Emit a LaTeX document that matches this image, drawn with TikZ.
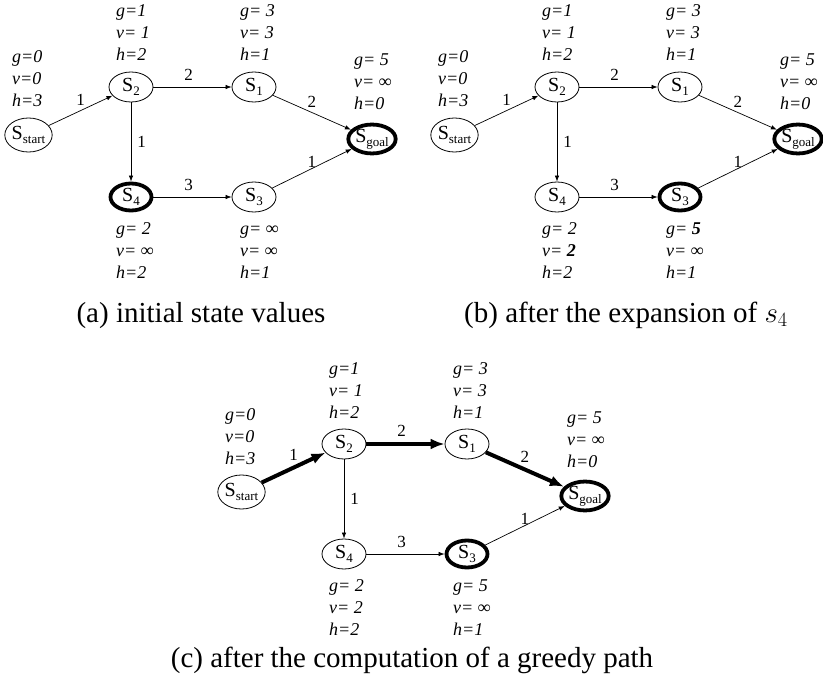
\documentclass[tikz,border=0pt]{standalone}
\usepackage{fix-cm}
\usepackage{fontspec}
\setmainfont{Liberation Serif}[
  BoldFont={Liberation Serif Bold},
  ItalicFont={Liberation Serif Italic},
  BoldItalicFont={Liberation Serif Bold Italic}]
\usetikzlibrary{arrows.meta,shapes.geometric}

% subscript of a state name
\newcommand\stsub[1]{\raisebox{-0.22em}{\fontsize{13}{13}\selectfont #1}}
% three stacked values g, v, h of a state
\newcommand\vals[3]{\begin{tabular}[t]{@{}l@{}}#1\\#2\\#3\end{tabular}}

\tikzset{
  state/.style={ellipse, draw, line width=0.8pt, minimum width=44pt,
    minimum height=30pt, inner sep=0pt, font=\fontsize{20}{20}\selectfont},
  startstate/.style={state, minimum width=43pt, minimum height=34pt},
  marked/.style={line width=3.8pt, minimum width=41pt, minimum height=27pt},
  conn/.style={-{Latex[length=6pt,width=4.5pt]}, line width=0.7pt},
  greedy/.style={-{Latex[length=14pt,width=11pt]}, line width=4pt},
  cost/.style={font=\fontsize{17}{17}\selectfont, inner sep=0pt},
  vlabel/.style={anchor=base west, inner sep=0pt,
    font=\fontsize{18}{22}\selectfont\itshape},
  caption/.style={anchor=base, inner sep=0pt, font=\fontsize{29}{29}\selectfont},
}

\begin{document}
\begin{tikzpicture}[x=1pt, y=-1pt]
\useasboundingbox (0,0) rectangle (823,693);

% ---------------- (a) initial state values ----------------
\begin{scope}
\node[startstate] (a-start) at (28.5,135) {S\stsub{start}};
\node[state] (a-s2) at (131,87) {S\stsub{2}};
\node[state] (a-s1) at (254,87) {S\stsub{1}};
\node[state, marked] (a-goal) at (372,139) {S\stsub{goal}};
\node[state, marked] (a-s4) at (131,197) {S\stsub{4}};
\node[state] (a-s3) at (254,197) {S\stsub{3}};

\node[vlabel] (a-vstart) at (12,63) {\vals{g=0}{v=0}{h=3}};
\node[vlabel] (a-v2) at (116,17) {\vals{g=1}{v= 1}{h=2}};
\node[vlabel] (a-v1) at (240,17) {\vals{g= 3}{v= 3}{h=1}};
\node[vlabel] (a-vgoal) at (354,66) {\vals{g= 5}{v= ∞}{h=0}};
\node[vlabel] (a-v4) at (116,234) {\vals{g= 2}{v= ∞}{h=2}};
\node[vlabel] (a-v3) at (240,234) {\vals{g= ∞}{v= ∞}{h=1}};

\draw[conn] (a-start) -- node[cost, above=5pt] {1} (a-s2);
\draw[conn] (a-s2) -- node[cost, pos=0.45, above=6pt] {2} (a-s1);
\draw[conn] (a-s2) -- node[cost, right=6pt] {1} (a-s4);
\draw[conn] (a-s1) -- node[cost, above=5pt] {2} (a-goal);
\draw[conn] (a-s4) -- node[cost, pos=0.45, above=6pt] {3} (a-s3);
\draw[conn] (a-s3) -- node[cost, above=1pt] {1} (a-goal);

\node[caption] (a-cap) at (201,322) {(a) initial state values};
\end{scope}

% ---------------- (b) after the expansion of s4 ----------------
\begin{scope}[shift={(426,0)}]
\node[startstate] (b-start) at (28.5,135) {S\stsub{start}};
\node[state] (b-s2) at (131,87) {S\stsub{2}};
\node[state] (b-s1) at (254,87) {S\stsub{1}};
\node[state, marked] (b-goal) at (372,139) {S\stsub{goal}};
\node[state] (b-s4) at (131,197) {S\stsub{4}};
\node[state, marked] (b-s3) at (254,197) {S\stsub{3}};

\node[vlabel] (b-vstart) at (12,63) {\vals{g=0}{v=0}{h=3}};
\node[vlabel] (b-v2) at (116,17) {\vals{g=1}{v= 1}{h=2}};
\node[vlabel] (b-v1) at (240,17) {\vals{g= 3}{v= 3}{h=1}};
\node[vlabel] (b-vgoal) at (354,66) {\vals{g= 5}{v= ∞}{h=0}};
\node[vlabel] (b-v4) at (116,234) {\vals{g= 2}{v= \textbf{2}}{h=2}};
\node[vlabel] (b-v3) at (240,234) {\vals{g= \textbf{5}}{v= ∞}{h=1}};

\draw[conn] (b-start) -- node[cost, above=5pt] {1} (b-s2);
\draw[conn] (b-s2) -- node[cost, pos=0.45, above=6pt] {2} (b-s1);
\draw[conn] (b-s2) -- node[cost, right=6pt] {1} (b-s4);
\draw[conn] (b-s1) -- node[cost, above=5pt] {2} (b-goal);
\draw[conn] (b-s4) -- node[cost, pos=0.45, above=6pt] {3} (b-s3);
\draw[conn] (b-s3) -- node[cost, above=1pt] {1} (b-goal);

\node[caption] (b-cap) at (200,322) {(b) after the expansion of $s_4$};
\end{scope}

% ---------------- (c) after the computation of a greedy path ----------------
\begin{scope}[shift={(213,357)}]
\node[startstate] (c-start) at (28.5,135) {S\stsub{start}};
\node[state] (c-s2) at (131,87) {S\stsub{2}};
\node[state] (c-s1) at (254,87) {S\stsub{1}};
\node[state, marked] (c-goal) at (372,139) {S\stsub{goal}};
\node[state] (c-s4) at (131,197) {S\stsub{4}};
\node[state, marked] (c-s3) at (254,197) {S\stsub{3}};

\node[vlabel] (c-vstart) at (12,63) {\vals{g=0}{v=0}{h=3}};
\node[vlabel] (c-v2) at (116,17) {\vals{g=1}{v= 1}{h=2}};
\node[vlabel] (c-v1) at (240,17) {\vals{g= 3}{v= 3}{h=1}};
\node[vlabel] (c-vgoal) at (354,66) {\vals{g= 5}{v= ∞}{h=0}};
\node[vlabel] (c-v4) at (116,234) {\vals{g= 2}{v= 2}{h=2}};
\node[vlabel] (c-v3) at (240,234) {\vals{g= 5}{v= ∞}{h=1}};

\draw[greedy] (c-start) -- node[cost, above=5pt] {1} (c-s2);
\draw[greedy] (c-s2) -- node[cost, pos=0.45, above=6pt] {2} (c-s1);
\draw[conn] (c-s2) -- node[cost, right=6pt] {1} (c-s4);
\draw[greedy] (c-s1) -- node[cost, above=5pt] {2} (c-goal);
\draw[conn] (c-s4) -- node[cost, pos=0.45, above=6pt] {3} (c-s3);
\draw[conn] (c-s3) -- node[cost, above=1pt] {1} (c-goal);

\node[caption] (c-cap) at (199,310) {(c) after the computation of a greedy path};
\end{scope}
\end{tikzpicture}
\end{document}
